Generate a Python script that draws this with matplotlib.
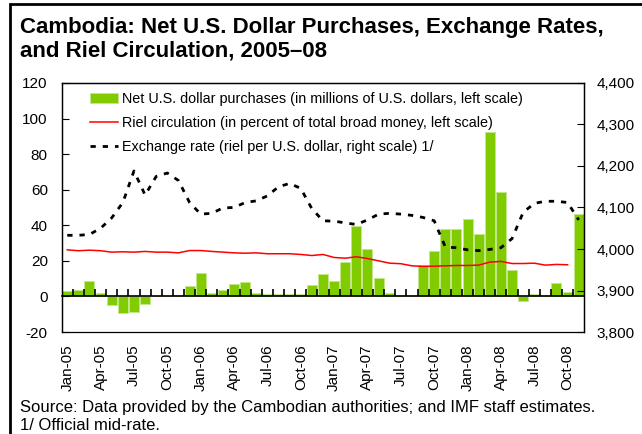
import numpy as np
import matplotlib.pyplot as plt
from matplotlib.ticker import MultipleLocator, FuncFormatter
from matplotlib.patches import Rectangle

plt.rcParams['font.family'] = ['Liberation Sans', 'DejaVu Sans']
plt.rcParams['axes.unicode_minus'] = False

# monthly, Jan-05 .. Nov-08
purchases = [2.8, 3.6, 8.4, 1.7, -4.9, -9.2, -8.8, -4.3, 0.0, 0.5, 0.8, 5.6,
             13.3, 2.0, 3.5, 7.2, 7.9, 2.0, 1.4, 1.6, 1.3, 1.3, 6.6, 12.6,
             8.8, 19.5, 39.7, 26.8, 10.5, 1.9, 0.9, 0.6, 17.6, 25.8, 37.8, 38.0,
             43.6, 35.2, 92.3, 58.5, 14.6, -2.8, 1.5, 0.7, 7.5, 2.4, 46.3]
# Jan-05 .. Oct-08
riel = [26.2, 25.7, 26.0, 25.7, 24.9, 25.1, 24.9, 25.3, 24.9, 24.9, 24.5, 25.8,
        25.8, 25.3, 24.9, 24.5, 24.3, 24.5, 24.0, 24.0, 24.0, 23.6, 23.0, 23.6,
        21.9, 21.5, 22.3, 21.3, 20.0, 18.7, 18.4, 17.2, 16.9, 17.0, 17.2, 17.4,
        17.4, 17.6, 19.3, 19.7, 18.5, 18.5, 18.7, 17.6, 18.0, 17.8]
exchange = [4033, 4033, 4035, 4050, 4075, 4112, 4188, 4130, 4175, 4183, 4165, 4112,
            4084, 4086, 4099, 4100, 4112, 4116, 4128, 4150, 4158, 4146, 4097, 4068,
            4067, 4063, 4059, 4070, 4084, 4086, 4084, 4081, 4076, 4068, 4005, 4003,
            3998, 3996, 3999, 4003, 4025, 4088, 4110, 4115, 4115, 4112, 4070]
tick_labels = ['Jan-05', 'Apr-05', 'Jul-05', 'Oct-05', 'Jan-06', 'Apr-06', 'Jul-06', 'Oct-06',
               'Jan-07', 'Apr-07', 'Jul-07', 'Oct-07', 'Jan-08', 'Apr-08', 'Jul-08', 'Oct-08']

x = np.arange(len(purchases))

fig = plt.figure(figsize=(6.42, 4.34), dpi=100)
ax = fig.add_axes([0.0961, 0.235, 0.814, 0.5738])

bars = ax.bar(x, purchases, width=0.9, color='#80CC00', edgecolor='#C4E68C', linewidth=0.7)
riel_line, = ax.plot(x[:len(riel)], riel, color='#FF0000', lw=1.1)
ax.set_ylim(-20, 120)
ax.set_xlim(-0.5, len(purchases) - 0.5)
ax.yaxis.set_major_locator(MultipleLocator(20))
ax.spines['bottom'].set_position(('data', 0))
ax.spines['bottom'].set_linewidth(1.2)
ax.set_xticks(x[::3], labels=tick_labels)
ax.set_xticks(np.arange(1, len(purchases)) - 0.5, minor=True)
ax.tick_params(axis='x', which='major', length=0, labelbottom=False)
ax.tick_params(axis='x', which='minor', direction='in', length=5, width=1.2)
ax.tick_params(axis='y', direction='in', length=5, width=0.8, labelsize=11, pad=10)

ax2 = ax.twinx()
fx_line, = ax2.plot(x, exchange, color='black', lw=2, linestyle=(0, (1.9, 2.5)))
ax2.set_ylim(3800, 4400)
ax2.yaxis.set_major_locator(MultipleLocator(100))
ax2.yaxis.set_major_formatter(FuncFormatter(lambda v, p: f'{v:,.0f}'))
ax2.tick_params(axis='y', direction='in', length=5, width=0.8, labelsize=11, pad=9)
ax2.xaxis.set_visible(True)
ax2.tick_params(axis='x', which='both', length=0, labelbottom=True, labelrotation=90,
                labelsize=11, pad=9)

for a in (ax, ax2):
    for s in ('top', 'left', 'right'):
        a.spines[s].set_linewidth(0.9)
ax2.spines['bottom'].set_linewidth(0.9)

ax2.legend([bars, riel_line, fx_line],
           ['Net U.S. dollar purchases (in millions of U.S. dollars, left scale)',
            'Riel circulation (in percent of total broad money, left scale)',
            'Exchange rate (riel per U.S. dollar, right scale) 1/'],
           loc='upper left', bbox_to_anchor=(0.054, 0.965),
           frameon=False, fontsize=10.4, borderpad=0, borderaxespad=0,
           handlelength=1.95, handletextpad=0.28, labelspacing=0.72)

fig.text(20 / 642, 1 - 33.3 / 434, 'Cambodia: Net U.S. Dollar Purchases, Exchange Rates,',
         fontsize=16, fontweight='bold', va='baseline')
fig.text(20 / 642, 1 - 56.7 / 434, 'and Riel Circulation, 2005\u201308',
         fontsize=16, fontweight='bold', va='baseline')
fig.text(20 / 642, 1 - 411.7 / 434,
         'Source: Data provided by the Cambodian authorities; and IMF staff estimates.',
         fontsize=12, va='baseline')
fig.text(20 / 642, 1 - 430 / 434, '1/ Official mid-rate.', fontsize=12, va='baseline')

fig.add_artist(Rectangle((10.5 / 642, -0.1), 1.2, 1.1 - 4.5 / 434, transform=fig.transFigure,
                         fill=False, ec='black', lw=2))

fig.savefig('out.png', dpi=100)
